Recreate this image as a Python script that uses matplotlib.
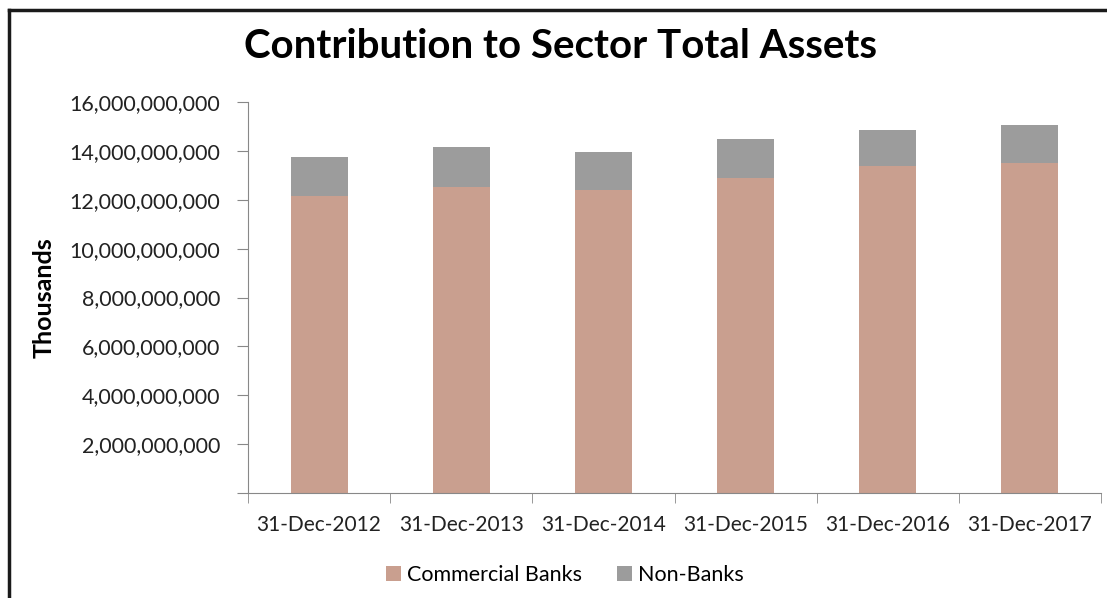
import numpy as np
import matplotlib.pyplot as plt
from matplotlib.lines import Line2D
from matplotlib.ticker import FuncFormatter

plt.rcParams['font.family'] = ['Lato', 'DejaVu Sans']

dates = ["31-Dec-2012", "31-Dec-2013", "31-Dec-2014", "31-Dec-2015", "31-Dec-2016", "31-Dec-2017"]
commercial = [12.15e9, 12.52e9, 12.40e9, 12.89e9, 13.38e9, 13.52e9]
non_banks = [1.60e9, 1.63e9, 1.55e9, 1.59e9, 1.47e9, 1.54e9]

fig = plt.figure(figsize=(11.07, 5.98), dpi=100)
ax = fig.add_axes([248/1107, 1-493/598, (1101-248)/1107, (493-102)/598])

x = np.arange(len(dates))
ax.bar(x, commercial, width=0.4, color="#C99F8F", label="Commercial Banks")
ax.bar(x, non_banks, width=0.4, bottom=commercial, color="#9C9C9C", label="Non-Banks")

ax.set_xlim(-0.5, len(dates) - 0.5)
ax.set_ylim(0, 16e9)
ax.set_yticks(np.arange(0, 16e9 + 1, 2e9))
ax.yaxis.set_major_formatter(FuncFormatter(lambda v, p: "" if v == 0 else f"{v:,.0f}"))
ax.set_xticks(x)
ax.set_xticklabels(dates)
ax.set_xticks(np.arange(-0.5, len(dates), 1), minor=True)
ax.tick_params(axis="x", which="major", length=0, labelsize=15, pad=16, colors="#222222")
ax.tick_params(axis="x", which="minor", length=7, color="#888888", direction="out")
ax.tick_params(axis="y", length=8, color="#888888", labelsize=15.5, pad=12, labelcolor="#222222")

for s in ["top", "right"]:
    ax.spines[s].set_visible(False)
ax.spines["left"].set_color("#888888")
ax.spines["bottom"].set_color("#888888")

ax.set_ylabel("Thousands", fontsize=18, fontweight="bold", labelpad=10)
fig.text(560/1107, 1-46/598, "Contribution to Sector Total Assets", fontsize=29,
         fontweight="bold", ha="center", va="center")

fig.legend(loc="center", bbox_to_anchor=(565/1107, 1-575/598), ncol=2, frameon=False,
           fontsize=15.5, handlelength=0.7, handleheight=0.7, columnspacing=1.6, handletextpad=0.3)

# outer frame, cut off at right and bottom like the source screenshot
fx, fy = 9/1107, 1 - 10/598
fig.lines.append(Line2D([fx, fx], [0, fy], transform=fig.transFigure, color="#1a1a1a", lw=2.5))
fig.lines.append(Line2D([fx, 1], [fy, fy], transform=fig.transFigure, color="#1a1a1a", lw=2.5))

fig.savefig("out.png", dpi=100)
